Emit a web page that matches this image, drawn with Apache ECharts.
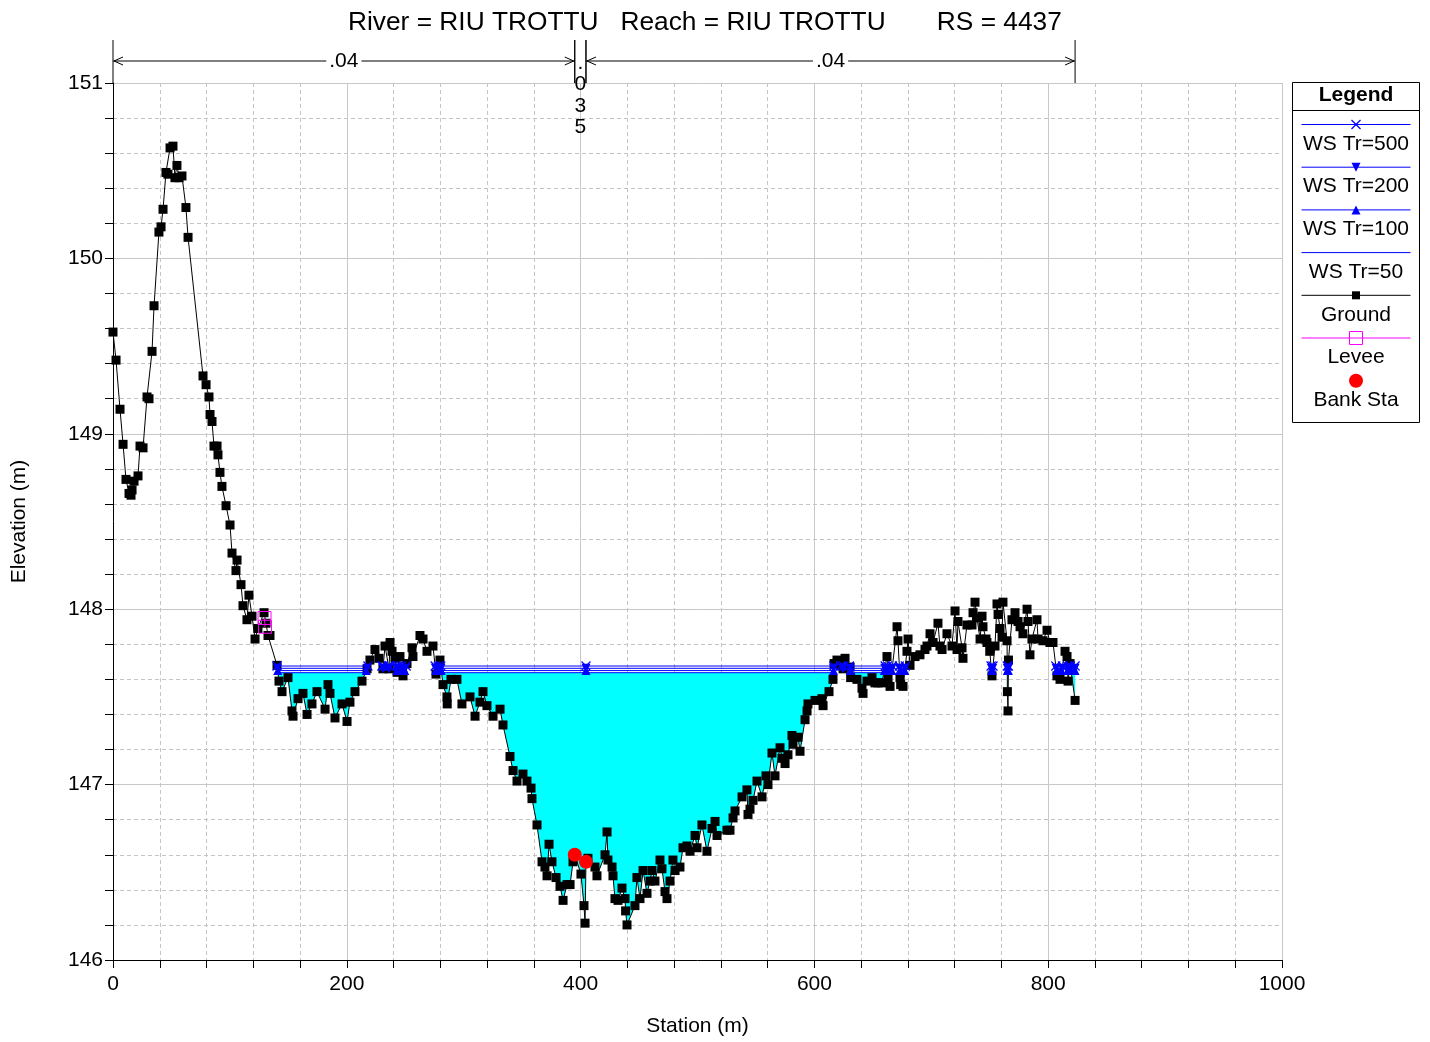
<!DOCTYPE html>
<html><head><meta charset="utf-8">
<script src="https://cdn.jsdelivr.net/npm/echarts@6/dist/echarts.min.js"></script>
<style>html,body{margin:0;padding:0;background:#fff}#c{width:1430px;height:1042px}</style>
</head><body><div id="c"></div>
<script>
// ---------------- DATA ----------------
const titleText = 'River = RIU TROTTU   Reach = RIU TROTTU       RS = 4437';
const station = [
0.0,2.6,6.0,8.6,11.1,13.7,15.4,16.3,18.0,21.4,23.1,25.7,29.1,30.8,33.4,35.1,39.3,41.1,42.8,45.3,
47.0,48.8,51.3,53.0,54.7,56.5,59.0,62.4,64.2,77.0,79.6,82.1,83.0,84.7,86.4,89.0,89.8,91.5,93.2,96.7,
100.1,101.8,105.2,106.1,109.5,111.2,114.6,116.3,118.9,121.5,124.0,129.2,130.9,132.6,134.3,140.3,
142.0,144.6,149.7,153.1,154.0,158.3,162.5,166.0,170.2,174.5,181.4,183.9,185.6,189.9,195.9,200.2,202.7,
207.0,213.0,217.3,219.8,224.1,227.5,230.9,232.7,236.1,237.0,238.7,241.2,243.0,245.5,248.1,251.5,255.8,
256.6,262.6,265.2,268.6,273.7,276.3,279.7,282.3,285.7,285.9,289.1,294.2,298.5,305.4,309.7,313.9,316.5,
319.9,325.1,331.1,333.6,339.6,342.2,345.6,350.7,354.1,357.6,358.4,362.7,367.0,369.5,371.3,373.0,375.5,
379.0,382.4,385.0,388.4,391.0,393.5,395.0,400.3,402.9,403.8,404.6,406.3,412.3,414.0,420.9,422.6,423.4,
426.9,427.7,429.4,432.0,435.4,438.0,438.5,439.7,446.5,448.2,450.8,453.4,456.8,459.4,461.1,463.6,467.9,
469.6,472.2,473.9,476.5,479.0,480.8,485.0,487.6,491.0,493.6,497.9,499.6,503.8,508.1,512.4,515.0,516.7,
525.2,527.8,530.4,532.1,538.1,542.3,543.2,544.9,547.5,550.9,555.2,558.6,560.3,563.7,566.3,570.6,572.3,
574.9,577.4,580.8,581.7,586.0,587.7,592.0,593.7,594.5,600.5,606.5,607.4,612.5,615.9,616.8,619.3,621.9,
624.5,626.2,630.5,631.0,636.4,640.7,641.6,645.0,649.3,651.8,654.4,657.8,662.1,663.0,664.7,670.7,671.5,
673.2,673.8,675.8,679.2,680.1,681.8,686.1,690.3,694.6,696.3,698.9,701.5,705.7,707.4,709.2,713.4,717.7,
720.3,722.0,722.8,726.3,727.1,730.5,734.8,735.7,737.4,739.1,741.7,743.4,744.2,746.8,747.6,750.0,751.9,
754.5,756.2,757.1,758.8,760.5,761.3,764.8,765.1,765.6,766.0,769.0,771.6,774.2,775.9,778.4,781.9,782.7,
784.4,786.1,790.4,791.3,795.6,799.0,801.5,804.1,807.5,810.1,814.4,816.1,817.0,818.7,823.0];
const elevation = [
149.58,149.42,149.14,148.94,148.74,148.66,148.65,148.68,148.73,148.76,148.93,148.92,149.21,149.20,149.47,149.73,150.15,150.18,150.28,150.49,
150.48,150.63,150.64,150.46,150.53,150.46,150.47,150.29,150.12,149.33,149.28,149.21,149.11,149.07,148.93,148.93,148.88,148.78,148.70,148.59,
148.48,148.32,148.22,148.28,148.14,148.02,147.94,148.08,147.96,147.83,147.89,147.98,147.92,147.85,147.85,147.68,
147.59,147.53,147.61,147.42,147.39,147.49,147.52,147.40,147.46,147.53,147.43,147.57,147.52,147.38,147.46,147.36,147.47,
147.53,147.59,147.66,147.71,147.77,147.72,147.66,147.79,147.66,147.81,147.76,147.72,147.64,147.73,147.62,147.69,147.78,
147.73,147.85,147.83,147.76,147.79,147.63,147.71,147.57,147.50,147.46,147.60,147.60,147.46,147.50,147.39,147.47,147.53,
147.45,147.39,147.43,147.34,147.16,147.08,147.02,147.06,147.02,146.98,146.92,146.77,146.56,146.53,146.48,146.66,146.56,
146.47,146.42,146.34,146.43,146.43,146.56,146.60,146.49,146.31,146.21,146.56,146.58,146.53,146.48,146.60,146.73,146.57,
146.53,146.48,146.35,146.34,146.41,146.35,146.28,146.20,146.31,146.47,146.35,146.51,146.38,146.45,146.51,146.45,146.57,
146.52,146.39,146.35,146.45,146.57,146.51,146.53,146.64,146.65,146.62,146.71,146.64,146.77,146.62,146.75,146.79,146.71,
146.74,146.74,146.81,146.85,146.93,146.97,146.83,146.86,146.91,147.02,146.93,147.05,147.00,147.18,147.05,147.21,147.15,
147.12,147.17,147.28,147.23,147.27,147.19,147.37,147.42,147.46,147.48,147.49,147.45,147.53,147.60,147.69,147.71,147.68,
147.66,147.72,147.67,147.61,147.60,147.55,147.52,147.59,147.61,147.58,147.58,147.58,147.73,147.61,147.56,147.90,147.82,
147.61,147.57,147.56,147.76,147.83,147.68,147.73,147.74,147.77,147.79,147.86,147.81,147.92,147.79,147.77,147.86,147.79,
147.99,147.77,147.93,147.78,147.72,147.91,147.91,147.98,148.04,147.95,147.83,147.96,147.90,147.83,147.81,147.76,147.62,
147.79,148.03,147.97,147.89,147.84,148.04,147.82,147.53,147.42,147.71,147.94,147.98,147.93,147.90,147.86,148.00,147.93,
147.74,147.83,147.94,147.83,147.82,147.88,147.81,147.81,147.62,147.60,147.76,147.73,147.59,147.69,147.48];
const leveeStation = [129.6, 130.0];
const leveeElevation = [147.95, 147.90];
const bankStation = [395.0, 404.6];
const bankElevation = [146.60, 146.56];
const wsNames = ['WS Tr=500', 'WS Tr=200', 'WS Tr=100', 'WS Tr=50'];
const wsElevation = [147.676, 147.663, 147.650, 147.638];
const nBreaks = [0, 395.0, 404.6, 823.0];
const nValues = ['.04', '.035', '.04'];
const xTickValues = [0, 200, 400, 600, 800, 1000];
const yTickValues = [146, 147, 148, 149, 150, 151];

// ---------------- HELPERS ----------------
const FONT = '"Liberation Sans", Arial, Helvetica, sans-serif';
const BLUE = '#0000ff';
const wsMarkers = ['x', 'down', 'up', null];

function wetSegments(ws) {
  const segs = []; let cur = null;
  for (let i = 0; i < station.length; i++) {
    const x = station[i], g = elevation[i], wet = g < ws;
    if (i === 0) { if (wet) cur = [x]; continue; }
    const xp = station[i - 1], gp = elevation[i - 1], wetp = gp < ws;
    if (wet !== wetp) {
      const xi = (g === gp) ? x : xp + (ws - gp) * (x - xp) / (g - gp);
      if (wet) cur = [xi]; else { cur.push(xi); segs.push([cur[0], cur[1], ws]); cur = null; }
    }
  }
  if (cur) { cur.push(station[station.length - 1]); segs.push([cur[0], cur[1], ws]); }
  return segs;
}

function fillPolygon(ws) {
  // bottom edge = min(ground, ws) with crossing points inserted, closed along the water surface
  const pts = [];
  for (let i = 0; i < station.length; i++) {
    const x = station[i], g = elevation[i];
    if (i > 0) {
      const xp = station[i - 1], gp = elevation[i - 1];
      if ((g < ws) !== (gp < ws) && g !== gp) {
        pts.push([xp + (ws - gp) * (x - xp) / (g - gp), ws]);
      }
    }
    pts.push([x, Math.min(g, ws)]);
  }
  let first = pts.findIndex(p => p[1] < ws), last = -1;
  for (let i = pts.length - 1; i >= 0; i--) if (pts[i][1] < ws) { last = i; break; }
  const poly = pts.slice(Math.max(0, first - 1), Math.min(pts.length, last + 2));
  poly.push([poly[poly.length - 1][0], ws]);
  poly.push([poly[0][0], ws]);
  return poly;
}

function markerEls(type, cx, cy, color) {
  const s = 4.5;
  if (type === 'x') return [
    {type: 'line', shape: {x1: cx - s, y1: cy - s, x2: cx + s, y2: cy + s}, style: {stroke: color, lineWidth: 1.2}},
    {type: 'line', shape: {x1: cx - s, y1: cy + s, x2: cx + s, y2: cy - s}, style: {stroke: color, lineWidth: 1.2}}];
  if (type === 'down') return [{type: 'polygon', shape: {points: [[cx - s, cy - s], [cx + s, cy - s], [cx, cy + s]]}, style: {fill: color}}];
  if (type === 'up') return [{type: 'polygon', shape: {points: [[cx, cy - s], [cx + s, cy + s], [cx - s, cy + s]]}, style: {fill: color}}];
  if (type === 'square') return [{type: 'rect', shape: {x: cx - 4, y: cy - 4, width: 8, height: 8}, style: {fill: color}}];
  if (type === 'emptySquare') return [{type: 'rect', shape: {x: cx - 6.5, y: cy - 6.5, width: 13, height: 13}, style: {fill: 'none', stroke: color, lineWidth: 1}}];
  if (type === 'dot') return [{type: 'circle', shape: {cx: cx, cy: cy, r: 7}, style: {fill: color}}];
  return [];
}

// ---------------- CHART ----------------
const chart = echarts.init(document.getElementById('c'), null, {renderer: 'canvas'});
const groundData = station.map((s, i) => [s, elevation[i]]);
const fillWs = Math.min(...wsElevation);
const fillPts = fillPolygon(fillWs);

const series = [];
// water fill
series.push({
  type: 'custom', coordinateSystem: 'cartesian2d', clip: true, z: 1, silent: true,
  data: [[fillPts[0][0], fillWs]],
  renderItem: (params, api) => ({
    type: 'polygon',
    shape: {points: fillPts.map(p => api.coord(p))},
    style: {fill: '#00ffff', stroke: null}
  })
});
// ground
series.push({
  type: 'line', name: 'Ground', data: groundData, z: 3,
  symbol: 'rect', symbolSize: 9, showSymbol: true,
  lineStyle: {color: '#000', width: 1}, itemStyle: {color: '#000'}
});
// levee
series.push({
  type: 'line', name: 'Levee', z: 4,
  data: leveeStation.map((s, i) => [s, leveeElevation[i]]),
  symbol: 'rect', symbolSize: 13,
  lineStyle: {color: '#ff00ff', width: 1},
  itemStyle: {color: 'rgba(0,0,0,0)', borderColor: '#ff00ff', borderWidth: 1}
});
// water surfaces
wsElevation.forEach((ws, k) => {
  series.push({
    type: 'custom', name: wsNames[k], coordinateSystem: 'cartesian2d', clip: false, z: 5,
    data: wetSegments(ws), encode: {x: [0, 1], y: 2},
    renderItem: (params, api) => {
      const x0 = api.value(0), x1 = api.value(1);
      const p0 = api.coord([x0, ws]), p1 = api.coord([x1, ws]);
      const ch = [{type: 'line', shape: {x1: p0[0], y1: p0[1], x2: p1[0], y2: p1[1]}, style: {stroke: BLUE, lineWidth: 1}}];
      const m = wsMarkers[k];
      if (m) {
        ch.push(...markerEls(m, p0[0], p0[1], BLUE), ...markerEls(m, p1[0], p1[1], BLUE));
        if (bankStation[1] > x0 && bankStation[1] < x1) {
          const pm = api.coord([bankStation[1], ws]);
          ch.push(...markerEls(m, pm[0], pm[1], BLUE));
        }
      }
      return {type: 'group', children: ch};
    }
  });
});
// bank stations
series.push({
  type: 'scatter', name: 'Bank Sta', z: 6,
  data: bankStation.map((s, i) => [s, bankElevation[i]]),
  symbol: 'circle', symbolSize: 14, itemStyle: {color: '#ff0000', opacity: 1}
});
// Manning's n annotations above plot
series.push({
  type: 'custom', coordinateSystem: 'cartesian2d', clip: false, z: 7, silent: true,
  data: nValues.map((v, i) => [nBreaks[i], nBreaks[i + 1], 151]), encode: {x: [0, 1], y: 2},
  renderItem: (params, api) => {
    const a = api.coord([api.value(0), 151]), b = api.coord([api.value(1), 151]);
    const label = nValues[params.dataIndex];
    const top = a[1] - 43, ay = a[1] - 22;
    const ch = [
      {type: 'line', shape: {x1: a[0], y1: top, x2: a[0], y2: a[1]}, style: {stroke: '#000', lineWidth: 1}},
      {type: 'line', shape: {x1: b[0], y1: top, x2: b[0], y2: a[1]}, style: {stroke: '#000', lineWidth: 1}}
    ];
    const w = b[0] - a[0];
    const mid = (a[0] + b[0]) / 2;
    if (w > 40) {
      ch.push({type: 'line', shape: {x1: a[0], y1: ay, x2: b[0], y2: ay}, style: {stroke: '#000', lineWidth: 1}});
      ch.push({type: 'polyline', shape: {points: [[a[0] + 10, ay - 4], [a[0] + 1, ay], [a[0] + 10, ay + 4]]}, style: {stroke: '#000', fill: null, lineWidth: 1}});
      ch.push({type: 'polyline', shape: {points: [[b[0] - 10, ay - 4], [b[0] - 1, ay], [b[0] - 10, ay + 4]]}, style: {stroke: '#000', fill: null, lineWidth: 1}});
      ch.push({type: 'text', x: mid, y: ay, style: {text: label, x: 0, y: 0, align: 'center', verticalAlign: 'middle',
        font: '21px ' + FONT, fill: '#000', backgroundColor: '#fff', padding: [0, 3]}});
    } else {
      ch.push({type: 'text', x: mid, y: ay - 9, style: {text: label.split('').join('\n'), x: 0, y: 0, align: 'center', verticalAlign: 'top',
        font: '21px ' + FONT, fill: '#000', lineHeight: 21.5}});
    }
    return {type: 'group', children: ch};
  }
});

// legend (graphic)
const legendItems = [
  {name: wsNames[0], color: BLUE, marker: 'x'},
  {name: wsNames[1], color: BLUE, marker: 'down'},
  {name: wsNames[2], color: BLUE, marker: 'up'},
  {name: wsNames[3], color: BLUE, marker: null},
  {name: 'Ground', color: '#000', marker: 'square'},
  {name: 'Levee', color: '#ff00ff', marker: 'emptySquare'},
  {name: 'Bank Sta', color: '#ff0000', marker: 'dot', noLine: true}
];
const LX = 1292.5, LY = 82.5, LW = 127, LH = 340, LCX = LX + LW / 2;
const legendEls = [
  {type: 'rect', shape: {x: LX, y: LY, width: LW, height: LH}, style: {fill: '#fff', stroke: '#000', lineWidth: 1}},
  {type: 'text', x: LCX, y: LY + 13, style: {text: 'Legend', align: 'center', verticalAlign: 'middle', font: 'bold 21px ' + FONT, fill: '#000'}},
  {type: 'line', shape: {x1: LX, y1: LY + 28, x2: LX + LW, y2: LY + 28}, style: {stroke: '#000', lineWidth: 1}}
];
legendItems.forEach((it, i) => {
  const ly = 124.5 + i * 42.7;
  if (!it.noLine) legendEls.push({type: 'line', shape: {x1: LX + 9, y1: ly, x2: LX + LW - 9, y2: ly}, style: {stroke: it.color, lineWidth: 1}});
  if (it.marker) legendEls.push(...markerEls(it.marker, LCX, ly, it.color));
  legendEls.push({type: 'text', x: LCX, y: ly + 19.5, style: {text: it.name, align: 'center', verticalAlign: 'middle', font: '21px ' + FONT, fill: '#000'}});
});

const axisCommon = {
  axisLine: {show: true, lineStyle: {color: '#000', width: 1}},
  axisTick: {show: true, inside: false, length: 8, lineStyle: {color: '#000'}},
  minorTick: {show: true, splitNumber: 5, length: 8, lineStyle: {color: '#000'}},
  splitLine: {show: true, lineStyle: {color: '#c8c8c8', width: 1, type: 'solid'}},
  minorSplitLine: {show: true, lineStyle: {color: '#c4c4c4', width: 1, type: [4, 3]}},
  nameLocation: 'middle',
  nameTextStyle: {fontFamily: FONT, fontSize: 21, color: '#000'},
  axisLabel: {fontFamily: FONT, fontSize: 21, color: '#000', formatter: v => String(v)}
};

chart.setOption({
  animation: false,
  backgroundColor: '#fff',
  title: {text: titleText, left: 343, top: 5, textStyle: {fontFamily: FONT, fontSize: 26.3, fontWeight: 'normal', color: '#000'}},
  grid: {left: 113, right: 148, top: 83, bottom: 80, containLabel: false},
  xAxis: Object.assign({}, axisCommon, {
    type: 'value', min: xTickValues[0], max: xTickValues[xTickValues.length - 1], interval: xTickValues[1] - xTickValues[0],
    name: 'Station (m)', nameGap: 56,
    axisLabel: Object.assign({}, axisCommon.axisLabel, {margin: 14})
  }),
  yAxis: Object.assign({}, axisCommon, {
    type: 'value', min: yTickValues[0], max: yTickValues[yTickValues.length - 1], interval: yTickValues[1] - yTickValues[0],
    name: 'Elevation (m)', nameGap: 83,
    axisLabel: Object.assign({}, axisCommon.axisLabel, {margin: 10})
  }),
  graphic: legendEls,
  series: series
});
</script>
</body></html>
